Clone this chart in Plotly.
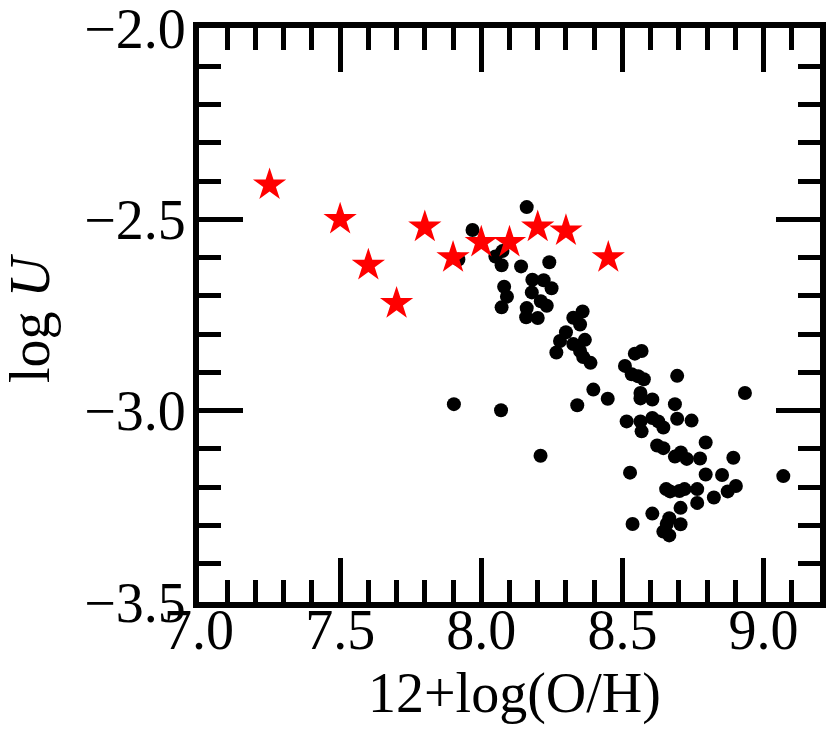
import plotly.graph_objects as go

# red stars: model grid
star_oh = [7.25, 7.50, 7.60, 7.70, 7.80, 7.90, 8.00, 8.10, 8.20, 8.30, 8.45]
star_logu = [-2.41, -2.50, -2.62, -2.72, -2.52, -2.60, -2.56, -2.56, -2.52, -2.53, -2.60]

# black dots: observed HII regions
obs_oh = [
    8.161, 7.969, 7.919, 8.050, 8.075, 8.072, 8.141, 8.241, 8.181, 8.221,
    8.249, 8.179, 8.211, 8.232, 8.161, 8.200, 8.159, 8.081, 8.091, 8.072,
    8.359, 8.326, 8.350, 8.300, 8.279, 8.326, 8.367, 8.266, 8.350, 8.361,
    8.387, 8.397, 8.448, 8.340, 8.210, 7.903, 8.070,
    8.544, 8.568, 8.509, 8.533, 8.556, 8.576, 8.694, 8.934, 8.564, 8.564,
    8.606, 8.686, 8.515, 8.564, 8.568, 8.606, 8.627, 8.645, 8.694, 8.745,
    8.795, 8.623, 8.645, 8.686, 8.707, 8.728, 8.775, 8.893, 8.527, 8.795,
    8.853, 9.070, 8.655, 8.669, 8.702, 8.720, 8.765, 8.824, 8.873, 8.902,
    8.706, 8.765, 8.606, 8.536, 8.666, 8.657, 8.645, 8.666, 8.706,
]
obs_logu = [
    -2.468, -2.528, -2.605, -2.597, -2.583, -2.620, -2.623, -2.612, -2.658, -2.659,
    -2.680, -2.691, -2.714, -2.726, -2.732, -2.758, -2.756, -2.676, -2.702, -2.730,
    -2.741, -2.757, -2.775, -2.795, -2.818, -2.826, -2.815, -2.848, -2.844, -2.860,
    -2.875, -2.945, -2.969, -2.986, -3.118, -2.983, -2.999,
    -2.851, -2.844, -2.883, -2.905, -2.910, -2.918, -2.909, -2.954, -2.954, -2.968,
    -2.971, -2.983, -3.028, -3.028, -3.054, -3.019, -3.028, -3.044, -3.021, -3.026,
    -3.083, -3.091, -3.098, -3.120, -3.109, -3.126, -3.125, -3.123, -3.162, -3.167,
    -3.168, -3.171, -3.205, -3.211, -3.210, -3.205, -3.205, -3.227, -3.211, -3.197,
    -3.254, -3.241, -3.269, -3.296, -3.281, -3.296, -3.316, -3.326, -3.297,
]

FONT = "Liberation Serif"
x_range = [7.0, 9.2]
y_range = [-3.5, -2.0]

W, H = 831, 733
ML, MR, MT, MB = 199, 11, 28, 131

fig = go.Figure()
fig.add_trace(go.Scatter(x=obs_oh, y=obs_logu, mode="markers",
                         marker=dict(symbol="circle", size=14, color="black", line=dict(width=0))))
fig.add_trace(go.Scatter(x=star_oh, y=star_logu, mode="markers",
                         marker=dict(symbol="star", size=25, color="red", line=dict(width=0))))
fig.add_trace(go.Scatter(x=[None], y=[None], xaxis="x2", yaxis="y2", showlegend=False))


def tick_axis(**kw):
    # inside major + minor ticks, thick black frame
    d = dict(
        ticks="inside", ticklen=44, tickwidth=5, tickcolor="black",
        showline=True, linewidth=6, linecolor="black",
        showgrid=False, zeroline=False, tickformat=".1f", automargin=False,
        tickfont=dict(family=FONT, size=56, color="black"),
        ticklabeloverflow="allow",
        minor=dict(ticks="inside", ticklen=22, tickwidth=5, tickcolor="black",
                   showgrid=False, dtick=0.1),
    )
    d.update(kw)
    return d


pw = W - ML - MR
ph = H - MT - MB

fig.update_layout(
    xaxis=tick_axis(range=x_range, tick0=7.0, dtick=0.5, ticklabelstandoff=-26),
    yaxis=tick_axis(range=y_range, tick0=-3.5, dtick=0.5, ticklabelstandoff=-4),
    # mirrored ticks on top and right
    xaxis2=tick_axis(range=x_range, tick0=7.0, dtick=0.5, overlaying="x", side="top",
                     showticklabels=False),
    yaxis2=tick_axis(range=y_range, tick0=-3.5, dtick=0.5, overlaying="y", side="right",
                     showticklabels=False),
    width=W, height=H,
    margin=dict(l=ML, r=MR, t=MT, b=MB, autoexpand=False),
    plot_bgcolor="white", paper_bgcolor="white",
    showlegend=False,
    annotations=[
        dict(text="12+log(O/H)", xref="paper", yref="paper",
             x=(514 - ML) / pw, y=(H - MB - 693) / ph,
             xanchor="center", yanchor="middle",
             showarrow=False, font=dict(family=FONT, size=56, color="black")),
        dict(text="log <i>U</i>", xref="paper", yref="paper",
             x=(30 - ML) / pw, y=(H - MB - 318) / ph,
             xanchor="center", yanchor="middle",
             showarrow=False, textangle=-90, font=dict(family=FONT, size=56, color="black")),
    ],
)

# drop the browser's default page margin so the figure sits at the window corner
fig.write_html("out.html", config={"displayModeBar": False},
               post_script="document.body.style.margin='0';")
